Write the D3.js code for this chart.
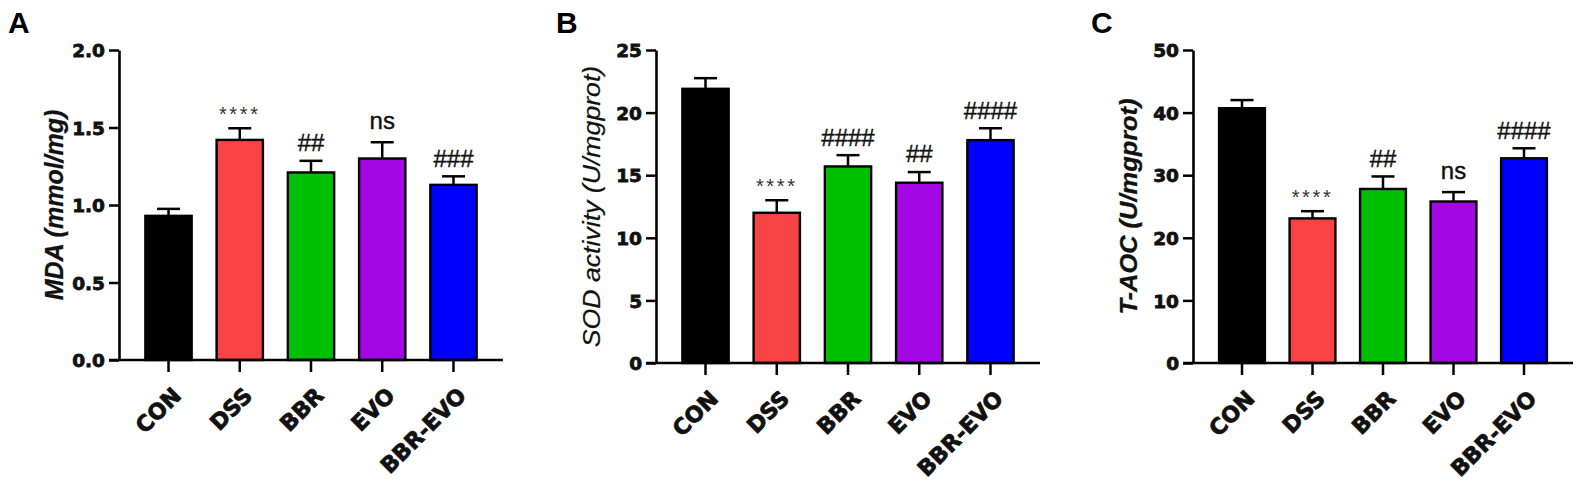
<!DOCTYPE html>
<html>
<head>
<meta charset="utf-8">
<script src="https://cdn.jsdelivr.net/npm/d3@7"></script>
<style>
  body { margin: 0; background: #fff; }
  svg { display: block; font-family: "Liberation Sans", Arial, sans-serif; }
</style>
</head>
<body>
<svg id="chart" width="1595" height="481"></svg>
<script>
var groups = ["CON", "DSS", "BBR", "EVO", "BBR-EVO"];
var colors = ["#000000", "#f74343", "#00bf00", "#a307e3", "#0000ff"];

// MDA (mmol/mg)
var mdaMean = [0.93, 1.42, 1.21, 1.30, 1.13];
var mdaErr  = [0.045, 0.075, 0.075, 0.105, 0.055];
var mdaSig  = ["", "****", "##", "ns", "###"];
var mdaTicks = [0, 0.5, 1.0, 1.5, 2.0];

// SOD activity (U/mgprot)
var sodMean = [21.9, 12.0, 15.7, 14.4, 17.8];
var sodErr  = [0.85, 1.0, 0.9, 0.85, 0.95];
var sodSig  = ["", "****", "####", "##", "####"];
var sodTicks = [0, 5, 10, 15, 20, 25];

// T-AOC (U/mgprot)
var taocMean = [40.7, 23.1, 27.8, 25.8, 32.7];
var taocErr  = [1.3, 1.15, 2.0, 1.5, 1.6];
var taocSig  = ["", "****", "##", "ns", "####"];
var taocTicks = [0, 10, 20, 30, 40, 50];

var svg = d3.select("#chart");
var heavy = "DejaVu Sans, Verdana, sans-serif";

var panels = [
  {letter: "A", lx: 8, ax: 119, x1: 503, y0: 360, yTop: 50, max: 2, fmt: d3.format(".1f"),
   title: "MDA (mmol/mg)", bold: true, tsize: 25, tscale: 1.0, mean: mdaMean, err: mdaErr, sig: mdaSig, ticks: mdaTicks},
  {letter: "B", lx: 556, ax: 656, x1: 1040, y0: 363, yTop: 50, max: 25, fmt: d3.format("d"),
   title: "SOD activity (U/mgprot)", bold: false, tsize: 23, tscale: 1.16, mean: sodMean, err: sodErr, sig: sodSig, ticks: sodTicks},
  {letter: "C", lx: 1091, ax: 1193, x1: 1573, y0: 363, yTop: 50, max: 50, fmt: d3.format("d"),
   title: "T-AOC (U/mgprot)", bold: true, tsize: 24, tscale: 1.06, mean: taocMean, err: taocErr, sig: taocSig, ticks: taocTicks}
];

panels.forEach(drawPanel);

function drawPanel(p) {
  var g = svg.append("g");

  var x = d3.scaleBand()
      .domain(groups)
      .range([p.ax, p.x1])
      .paddingInner(0.35)
      .paddingOuter(0.37);

  var y = d3.scaleLinear()
      .domain([0, p.max])
      .range([p.y0, p.yTop]);

  var rows = groups.map(function(d, i) {
    return {name: d, mean: p.mean[i], err: p.err[i], sig: p.sig[i], color: colors[i]};
  });

  // bars
  g.selectAll("rect.bar")
      .data(rows)
    .enter().append("rect")
      .attr("class", "bar")
      .attr("x", function(d) { return x(d.name); })
      .attr("width", x.bandwidth())
      .attr("y", function(d) { return y(d.mean); })
      .attr("height", function(d) { return y(0) - y(d.mean); })
      .attr("fill", function(d) { return d.color; })
      .attr("stroke", "#000")
      .attr("stroke-width", 2.4);

  // upper error bars
  var eb = g.selectAll("g.err")
      .data(rows)
    .enter().append("g")
      .attr("class", "err")
      .attr("transform", function(d) { return "translate(" + (x(d.name) + x.bandwidth() / 2) + ",0)"; });

  eb.append("line")
      .attr("y1", function(d) { return y(d.mean); })
      .attr("y2", function(d) { return y(d.mean + d.err); })
      .attr("stroke", "#000")
      .attr("stroke-width", 2.5);

  eb.append("line")
      .attr("x1", -11.5)
      .attr("x2", 11.5)
      .attr("y1", function(d) { return y(d.mean + d.err); })
      .attr("y2", function(d) { return y(d.mean + d.err); })
      .attr("stroke", "#000")
      .attr("stroke-width", 2.5);

  // significance marks
  eb.append("text")
      .attr("text-anchor", "middle")
      .attr("y", function(d) {
        var top = y(d.mean + d.err);
        if (d.sig.charAt(0) === "*") return top - 19 + 11.5;
        if (d.sig === "ns") return top - 20 + 6.5;
        return top - 18 + 8.4;
      })
      .attr("font-size", function(d) { return d.sig.charAt(0) === "*" ? 20 : 24; })
      .attr("letter-spacing", function(d) { return d.sig.charAt(0) === "*" ? 2.6 : 0; })
      .attr("fill", function(d) { return d.sig.charAt(0) === "*" ? "#333" : "#111"; })
      .attr("stroke", function(d) { return d.sig.charAt(0) === "*" ? "none" : "#111"; })
      .attr("stroke-width", 0.4)
      .text(function(d) { return d.sig; });

  // y axis
  var yAxis = g.append("g")
      .attr("transform", "translate(" + p.ax + ",0)")
      .call(d3.axisLeft(y).tickValues(p.ticks).tickFormat(p.fmt).tickSize(10).tickPadding(4).tickSizeOuter(0));

  yAxis.select(".domain").attr("stroke-width", 2.6);
  yAxis.selectAll(".tick line").attr("stroke-width", 2.5);
  yAxis.selectAll(".tick text")
      .attr("font-family", heavy)
      .attr("font-size", 18.5)
      .attr("font-weight", "bold")
      .attr("fill", "#111")
      .attr("stroke", "#111")
      .attr("stroke-width", 0.8)
      .attr("x", -14)
      .attr("dy", "0.36em");

  // x axis
  var xAxis = g.append("g")
      .attr("transform", "translate(0," + p.y0 + ")")
      .call(d3.axisBottom(x).tickSize(12).tickSizeOuter(0));

  xAxis.select(".domain").attr("stroke-width", 2.5)
      .attr("d", "M" + (p.ax - 10) + ",0H" + p.x1);
  xAxis.selectAll(".tick line").attr("stroke-width", 2.5);
  xAxis.selectAll(".tick text")
      .attr("font-family", heavy)
      .attr("font-size", 22)
      .attr("font-weight", "bold")
      .attr("fill", "#111")
      .attr("stroke", "#111")
      .attr("stroke-width", 0.8)
      .attr("text-anchor", "end")
      .attr("y", null)
      .attr("dy", null)
      .attr("transform", "translate(14,37) rotate(-45)");

  // y title
  g.append("text")
      .attr("transform", "translate(" + (p.ax - 56) + "," + ((p.y0 + p.yTop) / 2) + ") rotate(-90) scale(" + p.tscale + ",1)")
      .attr("text-anchor", "middle")
      .attr("font-size", p.tsize)
      .attr("font-weight", p.bold ? "bold" : "normal")
      .attr("font-style", "italic")
      .attr("fill", "#111")
      .attr("stroke", "#111")
      .attr("stroke-width", p.bold ? 0.3 : 0.2)
      .text(p.title);

  // panel letter
  g.append("text")
      .attr("x", p.lx)
      .attr("y", 33)
      .attr("font-size", 30)
      .attr("font-weight", "bold")
      .attr("fill", "#000")
      .text(p.letter);
}
</script>
</body>
</html>
